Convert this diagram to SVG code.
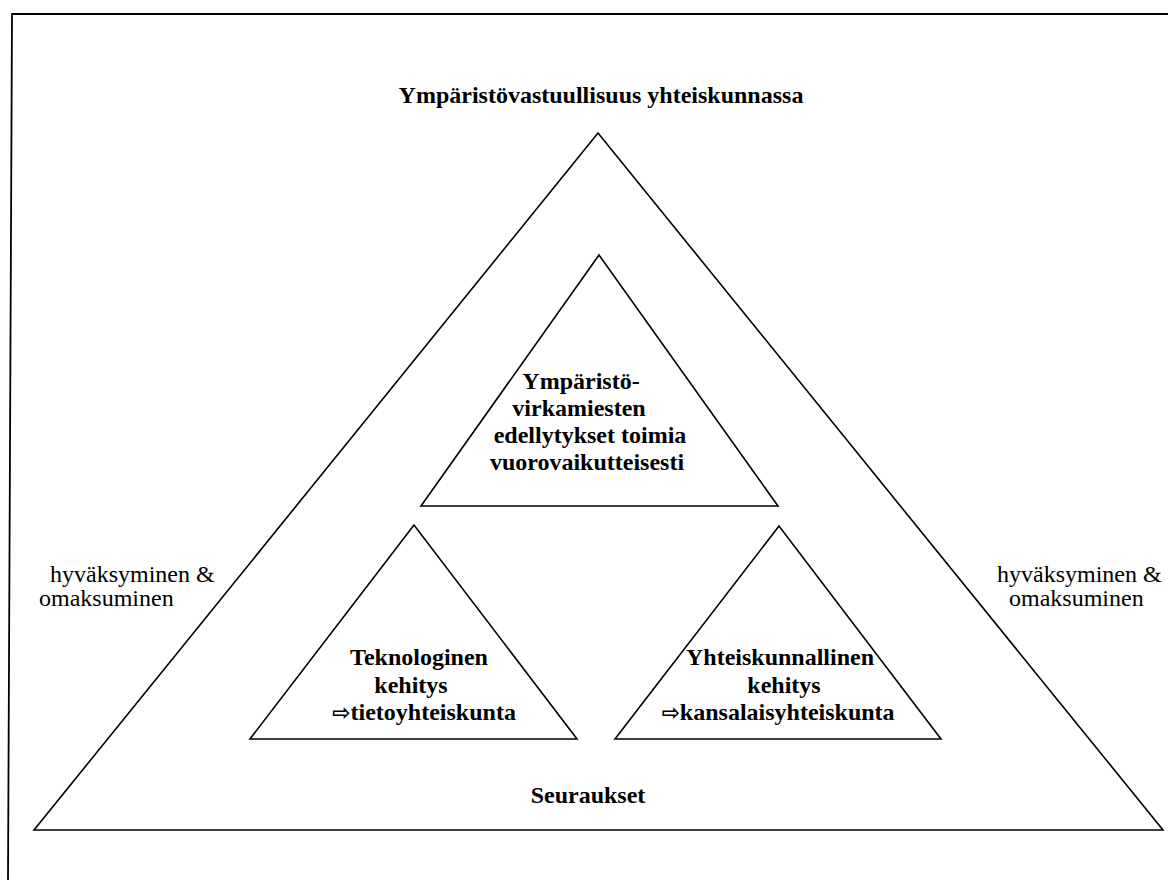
<svg xmlns="http://www.w3.org/2000/svg" width="1168" height="880" viewBox="0 0 1168 880">
<style>
.tri{fill:none;stroke:#000;stroke-width:1.6;stroke-linejoin:miter}
.frame{fill:none;stroke:#000;stroke-width:1.8}
.b{font-family:"Liberation Serif","Times New Roman",serif;font-weight:bold;font-size:24px;fill:#000;text-anchor:middle}
.r{font-family:"Liberation Serif","Times New Roman",serif;font-size:24px;fill:#000}
.arr{font-family:"DejaVu Sans",sans-serif;font-weight:bold;font-size:22px}
</style>
<rect width="1168" height="880" fill="#fff"/>
<path class="frame" d="M8,880 L12,14 L1168,14"/>
<g id="outer">
<polygon class="tri" points="598,133 34,830 1163,830"/>
<text class="b" x="601" y="103">Ympäristövastuullisuus yhteiskunnassa</text>
<text class="b" x="588" y="803">Seuraukset</text>
</g>
<g id="top-inner">
<polygon class="tri" points="599,255 421,506 778,506"/>
<text class="b" x="581" y="389">Ympäristö-</text>
<text class="b" x="579" y="416">virkamiesten</text>
<text class="b" x="590" y="443">edellytykset toimia</text>
<text class="b" x="587" y="470">vuorovaikutteisesti</text>
</g>
<g id="left-inner">
<polygon class="tri" points="414,525 250,739 577,739"/>
<text class="b" x="419" y="665">Teknologinen</text>
<text class="b" x="411" y="693">kehitys</text>
<text class="b" x="424" y="720"><tspan class="arr">⇨</tspan>tietoyhteiskunta</text>
</g>
<g id="right-inner">
<polygon class="tri" points="779,526 615,739 941,739"/>
<text class="b" x="780" y="665">Yhteiskunnallinen</text>
<text class="b" x="784" y="693">kehitys</text>
<text class="b" x="778" y="720"><tspan class="arr">⇨</tspan>kansalaisyhteiskunta</text>
</g>
<g id="left-label">
<text class="r" x="50" y="582">hyväksyminen &amp;</text>
<text class="r" x="39" y="606">omaksuminen</text>
</g>
<g id="right-label">
<text class="r" x="997" y="582">hyväksyminen &amp;</text>
<text class="r" x="1009" y="606">omaksuminen</text>
</g>
<g id="connectors"></g>
</svg>
